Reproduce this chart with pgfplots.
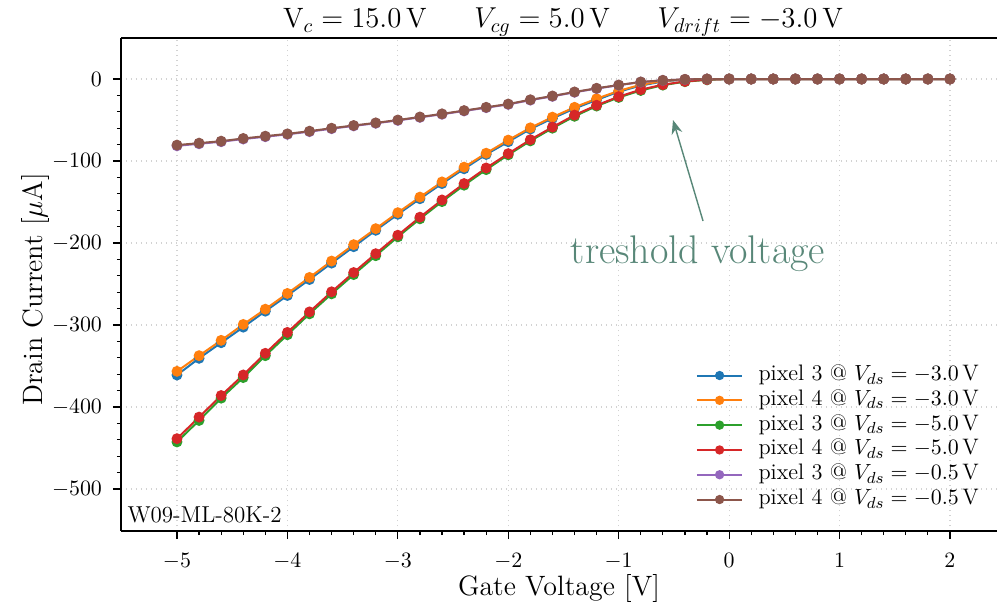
\documentclass[border=0pt]{standalone}
\usepackage{fontspec}
\usepackage{pgfplots}
\usepackage{pgfplotstable}
\pgfplotsset{compat=1.18}
\usetikzlibrary{arrows.meta}
\definecolor{tabblue}{HTML}{1F77B4}
\definecolor{taborange}{HTML}{FF7F0E}
\definecolor{tabgreen}{HTML}{2CA02C}
\definecolor{tabred}{HTML}{D62728}
\definecolor{tabpurple}{HTML}{9467BD}
\definecolor{tabbrown}{HTML}{8C564B}
\definecolor{annot}{HTML}{588778}
\pgfplotstableread{
x     pthreeA  pfourA  pthreeB  pfourB  pthreeC  pfourC
-5.0  -361.0   -356.5  -442.6   -438.6  -81.5    -80.6
-4.8  -340.6   -337.4  -416.4   -412.3  -79.0    -78.2
-4.6  -321.6   -318.7  -389.2   -386.0  -76.5    -75.8
-4.4  -302.6   -299.3  -364.1   -360.9  -73.2    -72.5
-4.2  -283.1   -280.7  -337.4   -334.5  -70.4    -69.7
-4.0  -264.0   -261.5  -311.9   -309.0  -67.5    -66.9
-3.8  -244.5   -242.0  -286.4   -284.0  -64.2    -63.6
-3.6  -224.5   -222.0  -262.0   -259.5  -60.6    -60.0
-3.4  -204.5   -202.0  -238.5   -236.0  -57.2    -56.7
-3.2  -184.5   -182.5  -215.5   -213.0  -54.0    -53.5
-3.0  -165.0   -163.0  -192.5   -190.5  -50.5    -50.0
-2.8  -146.0   -144.0  -170.5   -168.5  -46.8    -46.3
-2.6  -127.5   -125.5  -149.5   -147.5  -43.0    -42.5
-2.4  -109.5   -107.5  -129.5   -127.5  -39.0    -38.5
-2.2  -92.0    -90.5   -110.5   -108.5  -35.0    -34.5
-2.0  -76.5    -74.5   -92.5    -91.0   -31.0    -30.5
-1.8  -61.0    -59.5   -75.5    -74.0   -25.8    -25.3
-1.6  -48.0    -46.5   -60.0    -58.7   -21.2    -20.7
-1.4  -36.0    -34.5   -45.5    -44.0   -16.2    -15.8
-1.2  -25.5    -24.0   -33.0    -32.0   -11.7    -11.3
-1.0  -15.5    -14.5   -22.5    -21.5   -7.6     -7.3
-0.8  -8.0     -7.0    -14.0    -13.0   -3.8     -3.6
-0.6  -3.0     -2.5    -7.5     -6.9    -1.7     -1.6
-0.4  -0.7     -0.5    -3.3     -3.0    -0.5     -0.5
-0.2  0        0       -1.0     -0.8    0        0
0.0   0        0       0        0       0        0
0.2   0        0       0        0       0        0
0.4   0        0       0        0       0        0
0.6   0        0       0        0       0        0
0.8   0        0       0        0       0        0
1.0   0        0       0        0       0        0
1.2   0        0       0        0       0        0
1.4   0        0       0        0       0        0
1.6   0        0       0        0       0        0
1.8   0        0       0        0       0        0
2.0   0        0       0        0       0        0
}\datatable
\begin{document}
\begin{tikzpicture}
\begin{axis}[
  name=ax,
  scale only axis,
  width=438pt, height=246.5pt,
  xmin=-5.507, xmax=2.426,
  ymin=-551.2, ymax=50,
  axis x line*=box, axis y line*=left,
  axis line style={line width=1.1pt},
  xtick pos=left, ytick pos=left,
  tick align=outside,
  xtick={-5,-4,...,2}, ytick={-500,-400,...,0},
  minor x tick num=4, minor y tick num=4,
  major tick length=4pt, minor tick length=2pt,
  every tick/.style={black, line width=0.6pt},
  grid=major,
  major grid style={gray!35, line width=0.6pt, dash pattern=on 0.7pt off 1.8pt},
  tick label style={font=\fontsize{10.5}{12}\selectfont},
  xticklabel style={yshift=-3.5pt},
  yticklabel style={xshift=-2pt},
  xlabel={Gate Voltage [V]},
  ylabel={Drain Current [$\mu$A]},
  label style={font=\fontsize{14}{16}\selectfont},
  xlabel style={at={(axis description cs:0.5,-0.117)}, anchor=center},
  ylabel style={at={(axis description cs:-0.098,0.49)}, anchor=center},
  every axis plot/.append style={line width=1pt, mark=*, mark size=2.2pt},
  legend style={at={(axis description cs:0.988,0.347)}, anchor=north east, draw=none, fill=none,
    font=\fontsize{11.2}{12}\selectfont, cells={anchor=west}, row sep=1.2pt,
    nodes={inner sep=0.6pt, text height=0.75em, text depth=0.25em}},
  legend image code/.code={\draw[mark repeat=2, mark phase=2, mark size=1.8pt] plot coordinates {(0cm,0cm)(0.4cm,0cm)(0.8cm,0cm)}; \path (0.8cm+7pt,0cm);},
]
\addplot[tabblue, mark options={fill=tabblue}] table[x=x, y=pthreeA] {\datatable};
\addlegendentry{pixel 3 @ $V_{ds} = -3.0\,$V}
\addplot[taborange, mark options={fill=taborange}] table[x=x, y=pfourA] {\datatable};
\addlegendentry{pixel 4 @ $V_{ds} = -3.0\,$V}
\addplot[tabgreen, mark options={fill=tabgreen}] table[x=x, y=pthreeB] {\datatable};
\addlegendentry{pixel 3 @ $V_{ds} = -5.0\,$V}
\addplot[tabred, mark options={fill=tabred}] table[x=x, y=pfourB] {\datatable};
\addlegendentry{pixel 4 @ $V_{ds} = -5.0\,$V}
\addplot[tabpurple, mark options={fill=tabpurple}] table[x=x, y=pthreeC] {\datatable};
\addlegendentry{pixel 3 @ $V_{ds} = -0.5\,$V}
\addplot[tabbrown, mark options={fill=tabbrown}] table[x=x, y=pfourC] {\datatable};
\addlegendentry{pixel 4 @ $V_{ds} = -0.5\,$V}
\draw[annot, line width=0.7pt, -{Stealth[length=7pt, width=5.5pt]}] (axis cs:-0.236,-173.2) -- (axis cs:-0.508,-50);
\node[annot, anchor=base, font=\fontsize{20}{22}\selectfont, inner sep=0pt] at (axis cs:-0.282,-224.4) {treshold voltage};
\node[anchor=base west, inner sep=0pt, font=\fontsize{11.5}{13}\selectfont] at (axis description cs:0.007,0.018) {W09-ML-80K-2};
\end{axis}
\node[anchor=base, inner sep=0pt, font=\fontsize{14}{16}\selectfont] at ([xshift=2pt, yshift=5pt]ax.north) {V$_c = 15.0\,$V\hspace{1.7em}$V_{cg} = 5.0\,$V\hspace{1.7em}$V_{drift} = -3.0\,$V};
\pgfresetboundingbox
\path ([xshift=-60.5pt, yshift=-36pt]ax.south west) rectangle ([yshift=19pt]ax.north east);
\end{tikzpicture}
\end{document}
